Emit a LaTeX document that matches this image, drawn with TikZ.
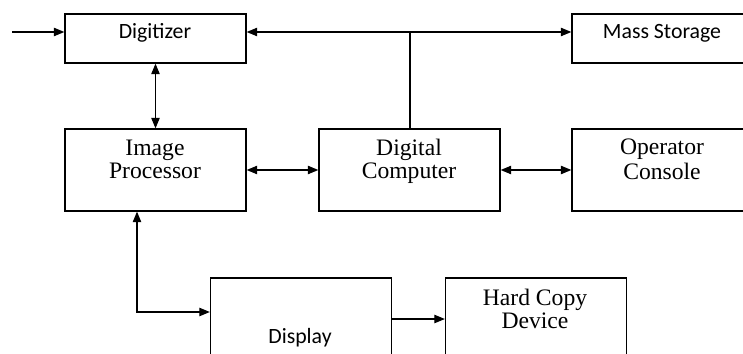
\documentclass[tikz,border=0pt]{standalone}
\usepackage{fontspec}
\setmainfont{Liberation Serif}
\newfontfamily\boxsans{Carlito}
\usetikzlibrary{arrows.meta}

\begin{document}
\begin{tikzpicture}[x=0.025cm, y=-0.025cm, line width=0.8pt,
    >={Triangle[length=7.5pt,width=6pt]},
    block/.style={draw, line width=0.9pt, minimum width=4.525cm, inner sep=0pt},
    small/.style={block, minimum height=1.225cm},
    big/.style={block, minimum height=2.05cm},
    sanstext/.style={font=\boxsans\fontsize{15.5}{18}\selectfont},
    seriftext/.style={font=\fontsize{16.8}{16.5}\selectfont, align=center}]

        % Frame
        \useasboundingbox (0,0) rectangle (743,354);
        \clip (0,0) rectangle (743,354);

        % Boxes
        \node[small] (digitizer) at (155.5,38.5) {};
        \node[small] (storage) at (662.5,38.5) {};
        \node[big] (processor) at (155.5,170) {};
        \node[big] (computer) at (409.5,170) {};
        \node[big] (console) at (662.5,170) {};
        \node[big] (display) at (301,319) {};
        \node[big] (hardcopy) at (536,319) {};

        % Labels
        \node[sanstext] (digitizer-t) at (155,33) {Digitizer};
        \node[sanstext] (storage-t) at (662,33) {Mass Storage};
        \node[seriftext] (processor-t) at (155,162) {Image\strut\\Processor\strut};
        \node[seriftext] (computer-t) at (409,162) {Digital\strut\\Computer\strut};
        \node[seriftext] (console-t) at (662,162) {Operator\strut\\Console\strut};
        \node[sanstext] (display-t) at (300,338) {Display};
        \node[seriftext] (hardcopy-t) at (535,312) {Hard Copy\strut\\Device\strut};

        % Points
        \coordinate (in) at (12,32);
        \coordinate (bus) at (410,32);
        \coordinate (bend) at (137,312);

        % Arrows
        \draw[->] (in) -- (digitizer.west |- in);
        \draw[<->] (digitizer.east |- bus) -- (storage.west |- bus);
        \draw (bus) -- (bus |- computer.north);
        \draw[<->] (digitizer) -- (processor);
        \draw[<->] (processor) -- (computer);
        \draw[<->] (computer) -- (console);
        \draw[<->] (processor.south -| bend) -- (bend) -- (display.west |- bend);
        \draw[->] (display) -- (hardcopy);

\end{tikzpicture}
\end{document}
